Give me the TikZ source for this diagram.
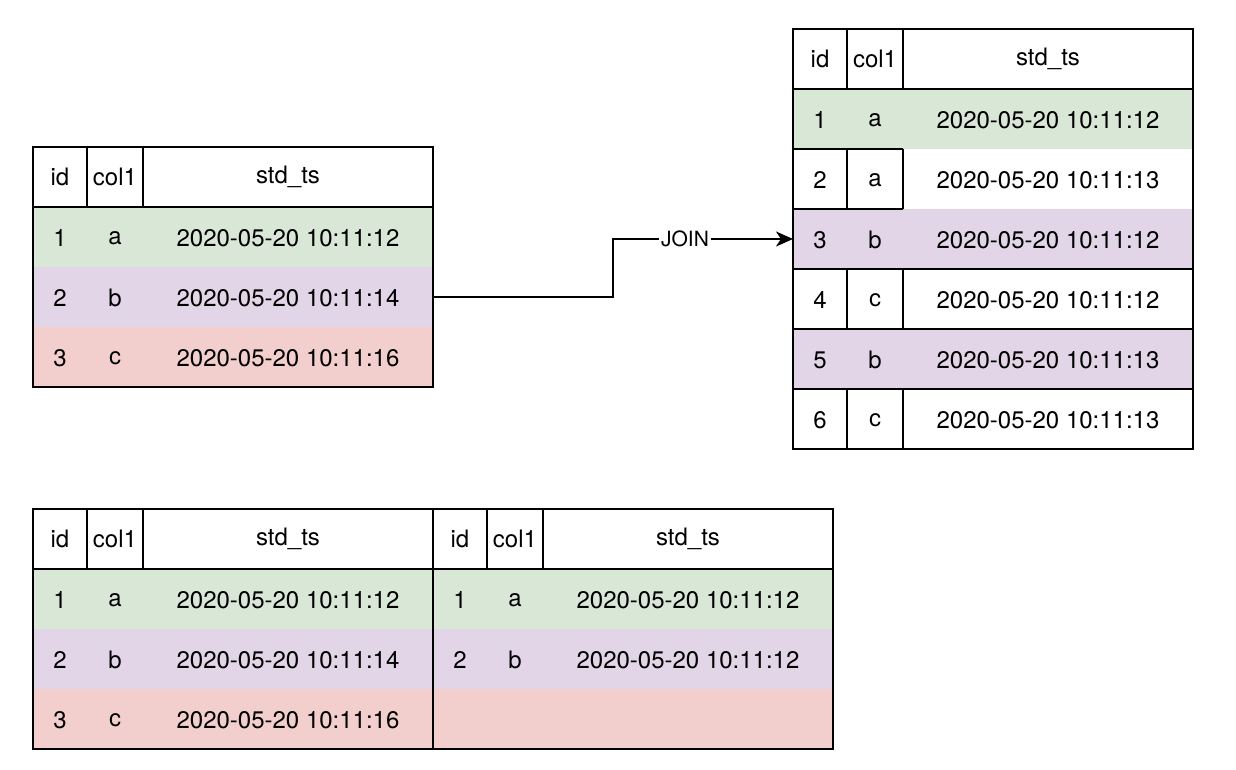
\documentclass[tikz,border=0pt]{standalone}
\usepackage{fontspec}
\setmainfont{TeX Gyre Heros}
\usetikzlibrary{arrows.meta}
\definecolor{rowgreen}{HTML}{D9E8D6}
\definecolor{rowpurple}{HTML}{E1D5E7}
\definecolor{rowred}{HTML}{F2CFCC}
\begin{document}
\begin{tikzpicture}[x=0.5pt,y=-0.5pt,>={Stealth[length=8.5pt,width=7.5pt,inset=2.5pt]},line width=1pt,
	font=\fontsize{12}{14}\selectfont,
	rowbox/.style={minimum width=200pt,minimum height=30pt,inner sep=0pt,outer sep=0pt},
	joinlabel/.style={fill=white,inner sep=1pt,font=\fontsize{10.5}{12}\selectfont}]
	\useasboundingbox (0,0) rectangle (1236,770);
	% left table
	\node[rowbox,fill=rowgreen] (A1) at (233,237) {};
	\node[rowbox,fill=rowpurple] (A2) at (233,297) {};
	\node[rowbox,fill=rowred] (A3) at (233,357) {};
	\draw (33,147) rectangle (433,387) (33,207) -- (433,207) (87,147) -- (87,207) (143,147) -- (143,207);
	\foreach \y/\i/\c/\t in {177/id/col1/std\_ts, 238/1/a/2020-05-20 10:11:12, 298/2/b/2020-05-20 10:11:14, 358/3/c/2020-05-20 10:11:16}{
		\node (Ai\y) at (60,\y) {\i};
		\node (Ac\y) at (115,\y) {\c};
		\node (At\y) at (288,\y) {\t};
	}
	% joined table
	\node[rowbox,fill=rowgreen] (B1) at (993,119) {};
	\node[rowbox,fill=rowpurple] (B3) at (993,239) {};
	\node[rowbox,fill=rowpurple] (B5) at (993,359) {};
	\draw (793,29) rectangle (1193,449) (793,89) -- (1193,89) (847,29) -- (847,89) (903,29) -- (903,89);
	\draw (793,149) -- (903,149) (793,209) -- (903,209) (847,149) -- (847,209) (903,149) -- (903,209);
	\draw (793,269) -- (1193,269) (793,329) -- (1193,329) (847,269) -- (847,329) (903,269) -- (903,329);
	\draw (793,389) -- (1193,389) (847,389) -- (847,449) (903,389) -- (903,449);
	\foreach \y/\i/\c/\t in {59/id/col1/std\_ts, 120/1/a/2020-05-20 10:11:12, 180/2/a/2020-05-20 10:11:13, 240/3/b/2020-05-20 10:11:12, 300/4/c/2020-05-20 10:11:12, 360/5/b/2020-05-20 10:11:13, 420/6/c/2020-05-20 10:11:13}{
		\node (Bi\y) at (820,\y) {\i};
		\node (Bc\y) at (875,\y) {\c};
		\node (Bt\y) at (1048,\y) {\t};
	}
	% result tables
	\node[rowbox,fill=rowgreen] (C1) at (233,599) {};
	\node[rowbox,fill=rowpurple] (C2) at (233,659) {};
	\node[rowbox,fill=rowred] (C3) at (233,719) {};
	\node[rowbox,fill=rowgreen] (D1) at (633,599) {};
	\node[rowbox,fill=rowpurple] (D2) at (633,659) {};
	\node[rowbox,fill=rowred] (D3) at (633,719) {};
	\draw (33,509) rectangle (833,749) (433,509) -- (433,749) (33,569) -- (833,569);
	\draw (87,509) -- (87,569) (143,509) -- (143,569) (487,509) -- (487,569) (543,509) -- (543,569);
	\foreach \y/\i/\c/\t in {539/id/col1/std\_ts, 600/1/a/2020-05-20 10:11:12, 660/2/b/2020-05-20 10:11:14, 720/3/c/2020-05-20 10:11:16}{
		\node (Ci\y) at (60,\y) {\i};
		\node (Cc\y) at (115,\y) {\c};
		\node (Ct\y) at (288,\y) {\t};
	}
	\foreach \y/\i/\c/\t in {539/id/col1/std\_ts, 600/1/a/2020-05-20 10:11:12, 660/2/b/2020-05-20 10:11:12}{
		\node (Di\y) at (460,\y) {\i};
		\node (Dc\y) at (515,\y) {\c};
		\node (Dt\y) at (688,\y) {\t};
	}
	% join
	\draw[->] (A2.east) -- ++(180,0) |- (B3.west) node[joinlabel,pos=0.7] (join) {JOIN};
\end{tikzpicture}
\end{document}
